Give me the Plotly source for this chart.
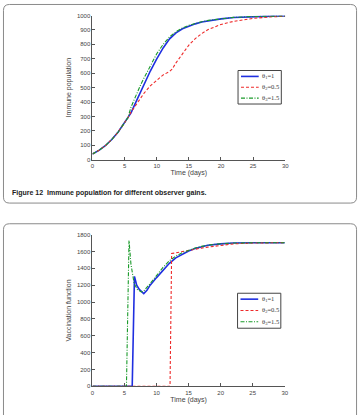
import plotly.graph_objects as go

# ---------- data ----------
# Figure 12: immune population
t_imm_blue = [0, 1, 2, 3, 4, 5, 5.5, 6, 6.5, 7, 7.5, 8, 9, 10, 11, 12, 13, 14, 15, 16, 17, 18, 20, 22, 25, 28, 30]
imm_blue = [40, 65, 97, 140, 192, 255, 290, 325, 375, 425, 475, 522, 615, 700, 775, 838, 880, 908, 927, 942, 955, 964, 977, 986, 993, 996, 997]
t_imm_green = [0, 1, 2, 3, 4, 5, 5.5, 6, 6.5, 7, 7.5, 8, 9, 10, 11, 12, 13, 14, 15, 16, 17, 18, 20, 22, 25, 28, 30]
imm_green = [40, 65, 97, 140, 192, 255, 290, 365, 420, 470, 520, 565, 655, 735, 800, 852, 888, 913, 932, 946, 957, 966, 978, 987, 993, 996, 997]
t_imm_red = [0, 1, 2, 3, 4, 5, 5.5, 6, 6.5, 7, 7.5, 8, 9, 10, 11, 12, 12.4, 13, 14, 15, 16, 17, 18, 19, 20, 22, 25, 28, 30]
imm_red = [40, 65, 97, 140, 192, 255, 290, 330, 365, 398, 430, 460, 512, 553, 588, 612, 628, 672, 738, 795, 840, 875, 903, 922, 938, 960, 980, 991, 995]

# Vaccination function
t_vac_blue = [0, 6.2, 6.55, 6.9, 7.3, 8.0, 8.5, 9, 10, 11, 12, 13, 14, 15, 16, 17, 18, 20, 22, 25, 30]
vac_blue = [0, 0, 1305, 1200, 1150, 1100, 1140, 1200, 1290, 1380, 1460, 1525, 1570, 1605, 1635, 1658, 1673, 1690, 1700, 1703, 1703]
t_vac_red = [0, 12.1, 12.35, 13, 14, 15, 16, 17, 18, 20, 22, 25, 30]
vac_red = [0, 0, 1575, 1585, 1600, 1612, 1625, 1640, 1652, 1675, 1690, 1700, 1705]
t_vac_green = [0, 5.3, 5.7, 6.0, 6.5, 7.0, 7.6, 8, 9, 10, 11, 12, 13, 14, 15, 16, 17, 18, 20, 22, 25, 30]
vac_green = [0, 0, 1730, 1450, 1220, 1150, 1120, 1130, 1220, 1320, 1410, 1490, 1545, 1585, 1615, 1640, 1660, 1675, 1692, 1700, 1703, 1703]

labels = ["θ<sub>1</sub>=1", "θ<sub>2</sub>=0.5", "θ<sub>3</sub>=1.5"]
x_ticks = [0, 5, 10, 15, 20, 25, 30]
y_ticks_imm = list(range(0, 1001, 100))
y_ticks_vac = list(range(0, 1801, 200))
caption = "<b>Figure 12  Immune population for different observer gains.</b>"

BLUE = "#1f2fe0"
RED = "#ee2a2a"
GREEN = "#1a9a2a"
COLORS = [BLUE, RED, GREEN]
WIDTHS = [1.6, 1.1, 1.1]
DASHES = ["solid", "3px,2px", "4px,1.5px,1px,1.5px"]

W, H = 364, 415

fig = go.Figure()

def add_set(xs, ys, xa, ya):
    for i in range(3):
        fig.add_trace(go.Scatter(x=xs[i], y=ys[i], mode="lines", name=labels[i],
                                 line=dict(color=COLORS[i], width=WIDTHS[i], dash=DASHES[i]),
                                 xaxis=xa, yaxis=ya, showlegend=False))

add_set([t_imm_blue, t_imm_red, t_imm_green], [imm_blue, imm_red, imm_green], "x", "y")
add_set([t_vac_blue, t_vac_red, t_vac_green], [vac_blue, vac_red, vac_green], "x2", "y2")

tickfont = dict(family="Liberation Sans, Arial", size=6, color="#444")
titlefont = dict(family="Liberation Sans, Arial", size=7, color="#444")
axcommon = dict(showline=True, linecolor="#555", linewidth=1, ticks="inside", ticklen=3, tickcolor="#555",
                showgrid=False, zeroline=False, tickfont=tickfont)

def px(x):
    return x / W

def py(y):
    return 1 - y / H

fig.update_layout(
    width=W, height=H, margin=dict(l=0, r=0, t=0, b=0),
    paper_bgcolor="white", plot_bgcolor="white", showlegend=False,
    xaxis=dict(domain=[px(92), px(288)], range=[0, 30], tickvals=x_ticks, anchor="y",
               title=dict(text="Time (days)", font=titlefont, standoff=2), **axcommon),
    yaxis=dict(domain=[py(159), py(12.7)], range=[0, 1000], tickvals=y_ticks_imm, anchor="x",
               title=dict(text="Immune population", font=titlefont, standoff=4), **axcommon),
    xaxis2=dict(domain=[px(92), px(287.5)], range=[0, 30], tickvals=x_ticks, anchor="y2",
                title=dict(text="Time (days)", font=titlefont, standoff=2), **axcommon),
    yaxis2=dict(domain=[py(389), py(235)], range=[0, 1800], tickvals=y_ticks_vac, anchor="x2",
                title=dict(text="Vaccination function", font=titlefont, standoff=4), **axcommon),
)

def rounded(x0, y0, x1, y1, r=6):
    rx, ry = r / W, r / H
    X0, X1 = px(x0), px(x1)
    Y0, Y1 = py(y0), py(y1)  # Y0 top, Y1 bottom
    return (f"M {X0+rx},{Y0} L {X1-rx},{Y0} Q {X1},{Y0} {X1},{Y0-ry} "
            f"L {X1},{Y1+ry} Q {X1},{Y1} {X1-rx},{Y1} L {X0+rx},{Y1} "
            f"Q {X0},{Y1} {X0},{Y1+ry} L {X0},{Y0-ry} Q {X0},{Y0} {X0+rx},{Y0} Z")

fig.add_shape(type="path", path=rounded(1.5, 1.5, 360.5, 203), xref="paper", yref="paper",
              line=dict(color="#8a8a8a", width=1), layer="below")
fig.add_shape(type="path", path=rounded(1.5, 224, 360.5, 430), xref="paper", yref="paper",
              line=dict(color="#8a8a8a", width=1), layer="below")

# compact legends (boxes with line keys and serif labels)
legfont = dict(family="Liberation Serif, Times New Roman", size=6.5, color="#333")

def legend_box(x0, y0, x1, y1, rows, kx0, kx1, tx):
    fig.add_shape(type="rect", xref="paper", yref="paper", x0=px(x0), x1=px(x1), y0=py(y1), y1=py(y0),
                  line=dict(color="#444", width=1), fillcolor="white", layer="above")
    for i, ry in enumerate(rows):
        fig.add_shape(type="line", xref="paper", yref="paper", x0=px(kx0), x1=px(kx1), y0=py(ry), y1=py(ry),
                      line=dict(color=COLORS[i], width=WIDTHS[i], dash=DASHES[i]), layer="above")
        fig.add_annotation(text=labels[i], x=px(tx), y=py(ry), xref="paper", yref="paper",
                           xanchor="left", yanchor="middle", showarrow=False, font=legfont)

legend_box(240, 68.5, 284, 102.5, [74.5, 85.5, 96.5], 243, 261, 262.5)
legend_box(239.5, 294.5, 283.5, 330, [300.5, 312, 323.5], 242.5, 260.5, 262)

fig.add_annotation(text=caption, x=px(8), y=py(193), xref="paper", yref="paper",
                   xanchor="left", yanchor="middle", showarrow=False,
                   font=dict(family="Liberation Sans, Arial", size=7, color="#222"))

fig.write_html("out.html")
